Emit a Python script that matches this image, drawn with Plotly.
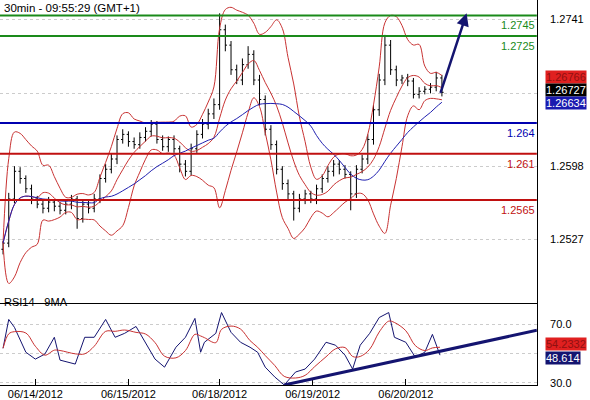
import numpy as np
import pandas as pd
import plotly.graph_objects as go
from plotly.subplots import make_subplots

# 30-min bar index of each drawn bar (every third bar shown)
bar_x = list(range(0, 234, 3))
closes = [1.2523, 1.2566, 1.2593, 1.2586, 1.2576, 1.2566, 1.2561, 1.2557, 1.2563, 1.2559,
          1.2555, 1.2561, 1.2566, 1.2547, 1.2561, 1.2557, 1.2566, 1.2586, 1.2595, 1.2605,
          1.2624, 1.2629, 1.2622, 1.2619, 1.2626, 1.2632, 1.2639, 1.2624, 1.2617, 1.2624,
          1.2615, 1.2600, 1.2593, 1.2615, 1.2629, 1.2639, 1.2649, 1.2658, 1.2731, 1.2716,
          1.2692, 1.2682, 1.2697, 1.2707, 1.2682, 1.2663, 1.2634, 1.2619, 1.2595, 1.2581,
          1.2571, 1.2557, 1.2566, 1.2571, 1.2566, 1.2576, 1.2586, 1.2593, 1.2600, 1.2595,
          1.2590, 1.2571, 1.2595, 1.2605, 1.2624, 1.2653, 1.2682, 1.2716, 1.2692, 1.2682,
          1.2684, 1.2681, 1.2668, 1.2671, 1.2673, 1.2675, 1.2684, 1.2670]
# wick extensions in pips above / below the body
up_pips = [2, 6, 5, 4, 3, 4, 3, 4, 5, 3, 4, 3, 4, 3, 4, 3, 5, 4, 5, 5,
           4, 5, 3, 4, 5, 4, 4, 3, 4, 3, 4, 3, 4, 5, 4, 5, 5, 6, 16, 5,
           4, 5, 6, 8, 4, 5, 4, 4, 4, 3, 4, 3, 5, 4, 3, 4, 4, 5, 4, 4,
           4, 3, 4, 4, 5, 5, 6, 10, 5, 4, 3, 4, 3, 4, 3, 4, 6, 3]
dn_pips = [5, 4, 4, 5, 4, 5, 4, 5, 4, 5, 4, 4, 5, 10, 4, 5, 4, 4, 4, 4,
           5, 4, 5, 4, 4, 4, 5, 4, 4, 5, 4, 8, 5, 4, 4, 4, 5, 5, 5, 6,
           5, 4, 5, 4, 5, 6, 6, 5, 5, 6, 5, 12, 4, 5, 4, 5, 4, 4, 5, 5,
           4, 16, 4, 4, 5, 5, 6, 5, 5, 6, 4, 5, 4, 4, 3, 4, 4, 4]

rsi_x = [0, 3, 6, 12, 17, 22, 27, 30, 38, 43, 48, 54, 59, 64, 70, 75, 80, 85, 91, 96,
         101, 104, 106, 112, 115, 120, 125, 130, 134, 138, 143, 148, 154, 159, 164, 170,
         175, 180, 184, 188, 193, 198, 203, 206, 212, 217, 222, 226, 230]
rsi = [53.7, 73.4, 68, 51, 46.3, 49.7, 61.2, 45.6, 42.9, 61.2, 61.2, 73.4, 61.2, 63.9,
       68.6, 57.8, 46.3, 40.8, 54.4, 61.2, 74.1, 51, 57.8, 63.9, 78.1, 64.6, 57.8, 54.4,
       51, 40.8, 34.1, 28.6, 37.5, 39.5, 46.3, 57.8, 55.8, 49, 39.5, 55.8, 63.9, 74.7,
       78.1, 61.2, 57.8, 47.6, 51, 63.2, 49]

date_ticks = [17, 66, 114, 163, 212]
date_labels = ["06/14/2012", "06/15/2012", "06/18/2012", "06/19/2012", "06/20/2012"]

levels = [1.2745, 1.2725, 1.264, 1.261, 1.2565]
level_colors = ["#1a8a1a", "#1a8a1a", "#0000b0", "#c01010", "#c01010"]
level_text = ["1.2745", "1.2725", "1.264", "1.261", "1.2565"]

c = np.array(closes)
opens = np.r_[c[0] - 0.0006, c[:-1]]
highs = np.maximum(opens, c) + np.array(up_pips) * 1e-4
lows = np.minimum(opens, c) - np.array(dn_pips) * 1e-4

s = pd.Series(closes)
mid = s.rolling(7, min_periods=1).mean()
sd = s.rolling(7, min_periods=1).std().fillna(0)
ma_long = s.rolling(17, min_periods=1).mean()
rsi_ma = pd.Series(rsi).rolling(3, min_periods=1).mean()

XR = [-1.6, 281]
fig = make_subplots(rows=2, cols=1, shared_xaxes=True, vertical_spacing=0,
                    row_heights=[0.786, 0.214])

for y in [mid + 2 * sd, mid, mid - 2 * sd]:
    fig.add_trace(go.Scatter(x=bar_x, y=y, mode="lines", line=dict(color="#c83232", width=1),
                             line_shape="spline"), 1, 1)
fig.add_trace(go.Scatter(x=bar_x, y=ma_long, mode="lines", line=dict(color="#2020b0", width=1),
                         line_shape="spline"), 1, 1)
fig.add_trace(go.Ohlc(x=bar_x, open=opens, high=highs, low=lows, close=c,
                      increasing_line_color="black", decreasing_line_color="black",
                      line_width=1, tickwidth=0.3), 1, 1)

for lv, col, txt in zip(levels, level_colors, level_text):
    fig.add_shape(type="line", x0=XR[0], x1=XR[1], y0=lv, y1=lv,
                  line=dict(color=col, width=2), row=1, col=1)
    fig.add_annotation(x=XR[1], y=lv, text=txt, xanchor="right", yanchor="top", yshift=-2,
                       showarrow=False, font=dict(color=col, size=11), row=1, col=1)

fig.add_annotation(x=244, y=1.2747, ax=230, ay=1.2668, xref="x", yref="y", axref="x", ayref="y",
                   showarrow=True, arrowhead=2, arrowsize=1, arrowwidth=2.5, arrowcolor="#141470",
                   text="")

fig.add_trace(go.Scatter(x=rsi_x, y=rsi, mode="lines", line=dict(color="#141470", width=1)), 2, 1)
fig.add_trace(go.Scatter(x=rsi_x, y=rsi_ma, mode="lines", line=dict(color="#c83232", width=1),
                         line_shape="spline"), 2, 1)
fig.add_shape(type="line", x0=148, y0=28.6, x1=281, y1=66,
              line=dict(color="#141470", width=3), row=2, col=1)

# price boxes on right, stacked around the last price
boxes = [("1.26766", "#e02020", "#901010", 13), ("1.26727", "black", "white", 0),
         ("1.26634", "#1a1ab0", "white", -13)]
for txt, bg, fc, sh in boxes:
    fig.add_annotation(xref="paper", x=0.923, y=1.26727, yref="y", yshift=sh, text=txt,
                       xanchor="left", showarrow=False, bgcolor=bg, font=dict(color=fc, size=11),
                       borderpad=0)
fig.add_annotation(xref="paper", x=0.923, y=51.5, yref="y2", yshift=7, text="54.2332", xanchor="left",
                   showarrow=False, bgcolor="#e02020", font=dict(color="#901010", size=11), borderpad=0)
fig.add_annotation(xref="paper", x=0.923, y=51.5, yref="y2", yshift=-7, text="48.614", xanchor="left",
                   showarrow=False, bgcolor="#141470", font=dict(color="white", size=11), borderpad=0)

fig.add_annotation(xref="paper", yref="paper", x=0.003, y=1.0, text="30min - 09:55:29 (GMT+1)",
                   xanchor="left", yanchor="top", showarrow=False, font=dict(size=11.5, color="black"))
fig.add_annotation(xref="paper", yref="paper", x=0.003, y=0.236, text="RSI14 - 9MA",
                   xanchor="left", yanchor="top", showarrow=False, font=dict(size=11, color="black"))

fig.update_layout(width=590, height=400, margin=dict(l=0, r=0, t=0, b=12),
                  paper_bgcolor="white", plot_bgcolor="white", showlegend=False,
                  font=dict(family="Liberation Sans, Arial", size=11, color="black"))
fig.update_xaxes(range=XR, domain=[0, 0.91], showgrid=False, zeroline=False,
                 rangeslider_visible=False, showline=True, linecolor="black", mirror=False)
fig.update_xaxes(showticklabels=False, row=1, col=1)
fig.update_xaxes(tickvals=date_ticks, ticktext=date_labels, ticks="inside", ticklen=6,
                 tickcolor="black", showticklabels=True, ticklabelstandoff=-1,
                 tickfont=dict(size=11), row=2, col=1)
fig.update_yaxes(side="right", showline=True, linecolor="black", zeroline=False,
                 gridcolor="#cccccc", griddash="dot", ticks="", ticklabelstandoff=10,
                 tickfont=dict(size=11), automargin=False)
fig.update_yaxes(range=[1.2465, 1.2760], tickvals=[1.2527, 1.2598, 1.2669, 1.2741],
                 ticktext=["1.2527", "1.2598", "", "1.2741"], row=1, col=1)
fig.update_yaxes(range=[28.6, 84.9], tickvals=[30, 50, 70], ticktext=["30.0", "", "70.0"],
                 row=2, col=1)

fig.write_html("out.html", config={"displayModeBar": False},
               post_script="document.body.style.margin='0';document.body.style.overflow='hidden';")
